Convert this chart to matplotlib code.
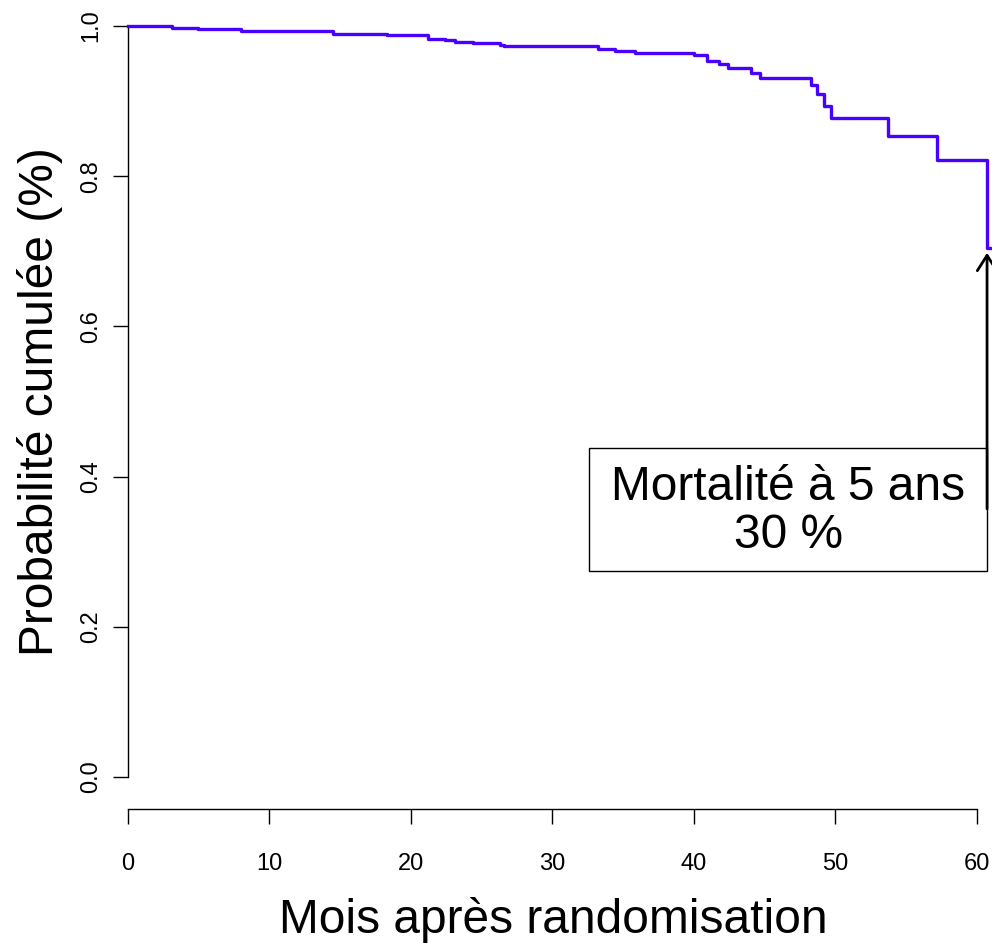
import matplotlib.pyplot as plt
from matplotlib.patches import Rectangle

plt.rcParams['font.family'] = ['Liberation Sans', 'DejaVu Sans']

# Kaplan-Meier style step curve (months, cumulative probability)
mois = [0, 3.1, 4.95, 8.0, 14.5, 18.3, 21.2, 22.4, 23.1, 24.4, 26.3, 26.6,
        33.25, 34.4, 35.85, 40.0, 40.9, 41.8, 42.4, 44.0, 44.7, 48.3, 48.7,
        49.2, 49.7, 53.7, 57.2, 60.7, 61.5]
proba = [1.0, 0.998, 0.996, 0.994, 0.990, 0.988, 0.983, 0.981, 0.979, 0.977,
         0.975, 0.973, 0.970, 0.967, 0.964, 0.961, 0.954, 0.950, 0.944, 0.937,
         0.931, 0.921, 0.910, 0.894, 0.878, 0.854, 0.822, 0.704, 0.704]

x_ticks = [0, 10, 20, 30, 40, 50, 60]
y_ticks = [0.0, 0.2, 0.4, 0.6, 0.8, 1.0]
y_ticklabels = ["0.0", "0.2", "0.4", "0.6", "0.8", "1.0"]

annot_lines = ["Mortalité à 5 ans", "30 %"]

W, H = 992, 943
fig = plt.figure(figsize=(W / 100, H / 100), dpi=100)
x0 = 127.7
px_per_month = 14.155
ax = fig.add_axes([x0 / W, (H - 777) / H, (W - x0) / W, 751 / H])
ax.set_xlim(0, (W - x0) / px_per_month)
ax.set_ylim(0, 1)

ax.step(mois, proba, where='post', color='#4800FF', lw=2.4, clip_on=False, zorder=3)

for s in ['top', 'right']:
    ax.spines[s].set_visible(False)
ax.spines['left'].set_bounds(0, 1)
ax.spines['bottom'].set_bounds(0, 60)
ax.spines['bottom'].set_position(('outward', 23))
for s in ['left', 'bottom']:
    ax.spines[s].set_linewidth(1.0)

ax.set_xticks(x_ticks)
ax.set_yticks(y_ticks)
ax.set_yticklabels(y_ticklabels)
ax.tick_params(axis='both', direction='out', length=10.5, width=1.0, labelsize=17)
ax.tick_params(axis='x', pad=21.5)
ax.tick_params(axis='y', pad=8, labelrotation=90)
for t in ax.get_yticklabels():
    t.set_va('center')

# annotation box and arrow
ax.add_patch(Rectangle((32.61, 0.2747), 60.73 - 32.61, 0.4377 - 0.2747,
                       fill=False, ec='black', lw=1.0, clip_on=False))
ax.text(46.67, 0.3688, annot_lines[0], ha='center', va='baseline', fontsize=34.5)
ax.text(46.67, 0.3045, annot_lines[1], ha='center', va='baseline', fontsize=34.5)
ax.annotate('', xy=(60.71, 0.698), xytext=(60.71, 0.357),
            arrowprops=dict(arrowstyle='->,head_length=1.1,head_width=0.7',
                            lw=2.0, color='black', shrinkA=0, shrinkB=0),
            annotation_clip=False)

fig.text(553.3 / W, 1 - 933 / H, "Mois après randomisation",
         ha='center', va='baseline', fontsize=34.5)
fig.text(53 / W, 1 - 401.5 / H, "Probabilité cumulée (%)",
         ha='center', va='baseline', rotation=90, rotation_mode='anchor',
         fontsize=34.5)

fig.savefig('out.png', dpi=100)
